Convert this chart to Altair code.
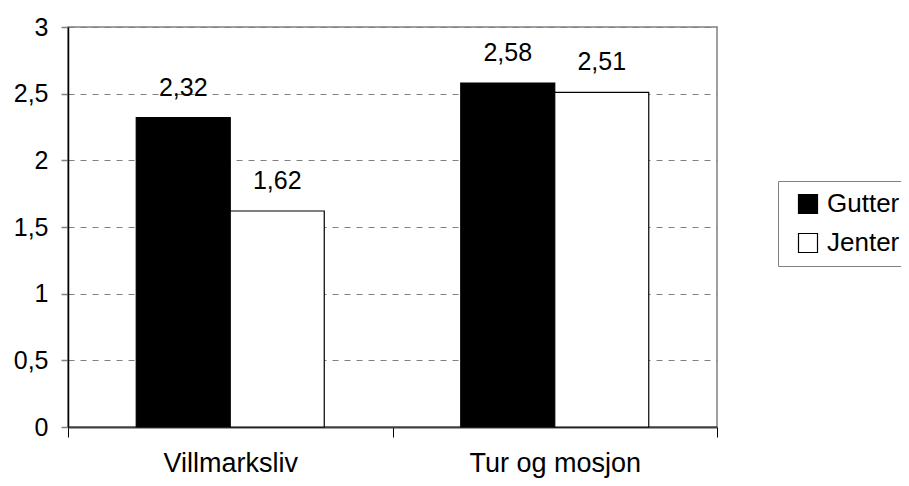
import altair as alt
import pandas as pd

categories = ["Villmarksliv", "Tur og mosjon"]
groups = ["Gutter", "Jenter"]
gutter = [2.32, 2.58]
jenter = [1.62, 2.51]

rows = []
for i, c in enumerate(categories):
    rows.append({"kategori": c, "gruppe": groups[0], "verdi": gutter[i]})
    rows.append({"kategori": c, "gruppe": groups[1], "verdi": jenter[i]})
df = pd.DataFrame(rows)

FONT = "Liberation Sans"

x = alt.X(
    "kategori:N",
    sort=categories,
    title=None,
    scale=alt.Scale(paddingInner=0, paddingOuter=0),
    axis=alt.Axis(
        labelAngle=0,
        tickBand="extent",
        tickSize=10,
        tickColor="#000000",
        tickWidth=1,
        domainColor="#404040",
        domainWidth=2,
        labelFontSize=27,
        labelFont=FONT,
        labelColor="#000000",
        labelPadding=13,
        grid=False,
    ),
)
xoff = alt.XOffset(
    "gruppe:N", sort=groups, scale=alt.Scale(paddingInner=0, paddingOuter=0.726)
)
y = alt.Y(
    "verdi:Q",
    title=None,
    scale=alt.Scale(domain=[0, 3], nice=False),
    axis=alt.Axis(
        values=[0, 0.5, 1, 1.5, 2, 2.5, 3],
        labelExpr="replace(format(datum.value, '~g'), '.', ',')",
        tickSize=7,
        tickColor="#808080",
        tickWidth=1.5,
        domainColor="#000000",
        domainWidth=1.5,
        grid=True,
        gridColor="#808080",
        gridDash=[6, 6],
        gridWidth=1.2,
        labelFontSize=25,
        labelFont=FONT,
        labelColor="#000000",
        labelPadding=13,
    ),
)

bars = alt.Chart(df).mark_bar(stroke="#000000", strokeWidth=1.2).encode(
    x=x,
    xOffset=xoff,
    y=y,
    fill=alt.Fill(
        "gruppe:N",
        sort=groups,
        scale=alt.Scale(domain=groups, range=["#000000", "#ffffff"]),
        legend=alt.Legend(
            title=None,
            orient="none",
            legendX=710,
            legendY=154,
            symbolType="square",
            symbolSize=361,
            symbolStrokeColor="#000000",
            symbolStrokeWidth=1.2,
            symbolOffset=7,
            labelFontSize=26,
            labelFont=FONT,
            labelColor="#000000",
            labelOffset=6,
            rowPadding=13,
            padding=10,
            fillColor="#ffffff",
            strokeColor="#808080",
        ),
    ),
)

labels = alt.Chart(df).transform_calculate(
    txt="replace(format(datum.verdi, '.2f'), '.', ',')"
).mark_text(fontSize=25, font=FONT, color="#000000", dy=-22, baseline="alphabetic").encode(
    x=alt.X("kategori:N", sort=categories),
    xOffset=alt.XOffset("gruppe:N", sort=groups),
    y=alt.Y("verdi:Q"),
    text="txt:N",
)

chart = (
    alt.layer(bars, labels)
    .properties(
        width=649,
        height=400,
        autosize=alt.AutoSizeParams(type="none"),
        padding={"left": 60, "top": 19, "right": 184, "bottom": 51},
        background="#ffffff",
    )
    .configure_view(stroke="#808080", strokeWidth=1.5)
)

chart.save("out.html", embed_options={"renderer": "svg", "actions": False})
